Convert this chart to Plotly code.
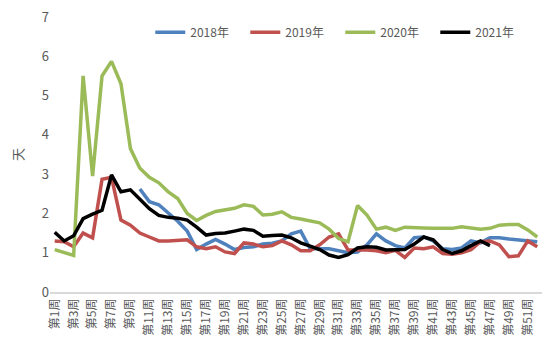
import plotly.graph_objects as go

weeks = [f"第{i}周" for i in range(1, 53)]
tick_labels = weeks[::2]

y2018 = [None, None, None, None, None, None, None, None, None, 2.62,
         2.3, 2.22, 2.02, 1.8, 1.55, 1.08, 1.22, 1.34, 1.22, 1.08,
         1.13, 1.15, 1.22, 1.24, 1.3, 1.48, 1.55, 1.1, 1.1, 1.1,
         1.05, 1.0, 1.02, 1.2, 1.48, 1.3, 1.18, 1.12, 1.38, 1.4,
         1.3, 1.1, 1.08, 1.12, 1.3, 1.25, 1.38, 1.38, 1.35, 1.32,
         1.29, 1.28]
y2019 = [1.3, 1.28, 1.15, 1.5, 1.38, 2.87, 2.92, 1.83, 1.7, 1.5,
         1.4, 1.3, 1.3, 1.32, 1.33, 1.15, 1.1, 1.15, 1.02, 0.98,
         1.25, 1.22, 1.15, 1.18, 1.3, 1.2, 1.05, 1.05, 1.2, 1.4,
         1.48, 1.07, 1.08, 1.07, 1.05, 1.0, 1.06, 0.88, 1.12, 1.1,
         1.15, 0.98, 0.96, 1.0, 1.08, 1.28, 1.3, 1.2, 0.9, 0.92,
         1.3, 1.15]
y2020 = [1.08, 1.0, 0.93, 5.5, 2.95, 5.5, 5.87, 5.3, 3.65, 3.15,
         2.92, 2.78, 2.55, 2.38, 2.0, 1.82, 1.95, 2.05, 2.1, 2.13,
         2.22, 2.18, 1.96, 1.98, 2.04, 1.9, 1.86, 1.82, 1.76, 1.6,
         1.36, 1.28, 2.2, 1.96, 1.6, 1.65, 1.57, 1.65, 1.65, 1.63,
         1.62, 1.62, 1.62, 1.66, 1.62, 1.6, 1.62, 1.7, 1.72, 1.72,
         1.58, 1.4]
y2021 = [1.52, 1.3, 1.43, 1.87, 1.98, 2.08, 2.98, 2.55, 2.6, 2.35,
         2.12, 1.95, 1.9, 1.88, 1.83, 1.65, 1.45, 1.49, 1.5, 1.55,
         1.6, 1.57, 1.42, 1.44, 1.45, 1.38, 1.25, 1.17, 1.08, 0.94,
         0.88, 0.95, 1.12, 1.15, 1.14, 1.07, 1.07, 1.08, 1.22, 1.4,
         1.33, 1.08, 0.98, 1.05, 1.18, 1.3, 1.18]

series = [
    ("2018年", y2018, "#4F81BD"),
    ("2019年", y2019, "#C0504D"),
    ("2020年", y2020, "#9BBB59"),
    ("2021年", y2021, "#000000"),
]

fig = go.Figure()
for name, vals, color in series:
    fig.add_trace(go.Scatter(
        x=weeks[:len(vals)], y=vals, name=name, mode="lines",
        line=dict(color=color, width=3.5), connectgaps=False,
    ))

font_family = "Noto Sans CJK SC, Noto Sans, sans-serif"
fig.update_layout(
    width=550, height=360,
    margin=dict(l=42, r=16, t=9, b=76),
    plot_bgcolor="white", paper_bgcolor="white",
    font=dict(family=font_family, color="#595959", size=12),
    showlegend=True,
    legend=dict(orientation="h", x=0.59, xanchor="center", y=0.945, yanchor="middle",
                font=dict(size=12, color="#595959"), entrywidth=50,
                bgcolor="rgba(0,0,0,0)"),
    xaxis=dict(
        type="category", categoryorder="array", categoryarray=weeks,
        tickmode="array", tickvals=tick_labels, ticktext=tick_labels,
        tickangle=-90, showgrid=False, showline=True, linecolor="#D9D9D9",
        linewidth=1.5, ticks="", tickfont=dict(size=12, color="#595959"),
        range=[-0.5, 51.5], automargin=False, ticklabeloverflow="allow",
    ),
    yaxis=dict(
        range=[0, 7], dtick=1, showgrid=False, zeroline=False, showline=False,
        ticks="", tickfont=dict(size=13, color="#595959"), automargin=False,
        ticklabeloverflow="allow",
        title=dict(text="天", font=dict(size=13, color="#595959"), standoff=20),
    ),
)

fig.write_html("out.html")
